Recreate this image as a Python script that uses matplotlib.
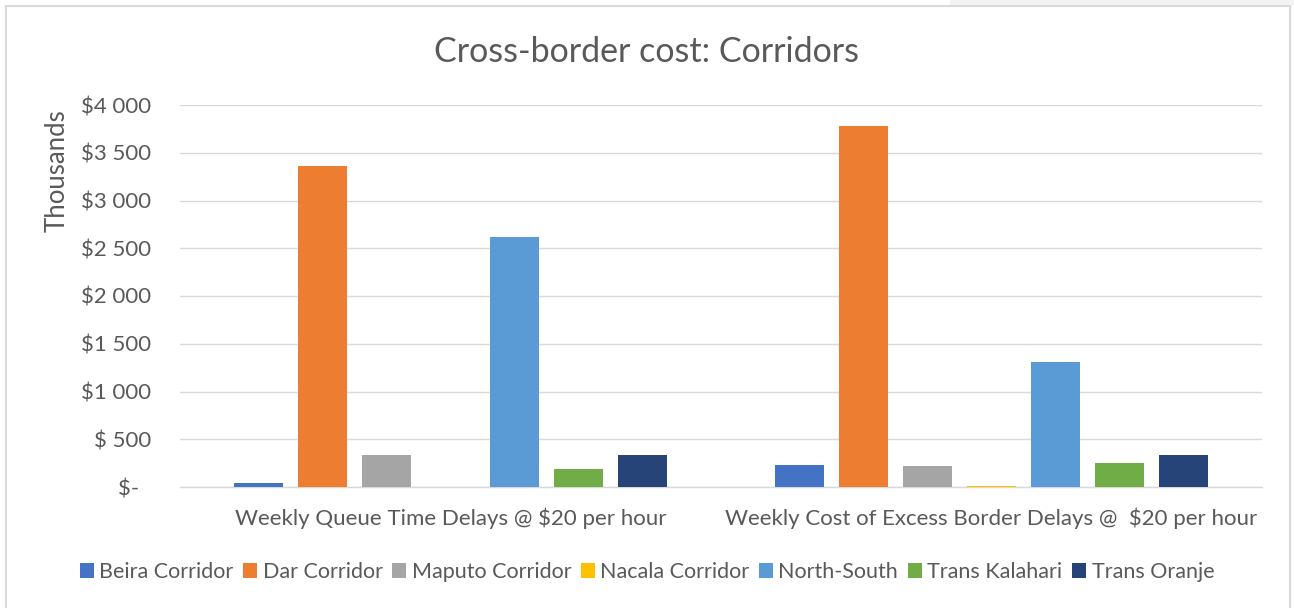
import matplotlib

matplotlib.use("Agg")
import matplotlib.pyplot as plt
import numpy as np
from matplotlib.patches import Patch, Rectangle

plt.rcParams["font.family"] = ["Lato", "DejaVu Sans"]

TXT = "#595959"
GRID = "#d9d9d9"

categories = [
    "Weekly Queue Time Delays @ $20 per hour",
    "Weekly Cost of Excess Border Delays @  $20 per hour",
]
corridors = [
    "Beira Corridor", "Dar Corridor", "Maputo Corridor", "Nacala Corridor",
    "North-South", "Trans Kalahari", "Trans Oranje",
]
colors = ["#4472C4", "#ED7D31", "#A5A5A5", "#FFC000", "#5B9BD5", "#70AD47", "#264478"]

# values in thousands of dollars, per corridor: [queue time, excess delays]
beira = [45, 230]
dar = [3360, 3780]
maputo = [330, 218]
nacala = [0, 15]
north_south = [2620, 1310]
trans_kalahari = [190, 250]
trans_oranje = [330, 332]
series = [beira, dar, maputo, nacala, north_south, trans_kalahari, trans_oranje]

yticks = [0, 500, 1000, 1500, 2000, 2500, 3000, 3500, 4000]
ytick_labels = ["$-  ", "$ 500", "$1 000", "$1 500", "$2 000", "$2 500",
                "$3 000", "$3 500", "$4 000"]

fig = plt.figure(figsize=(12.94, 6.08), dpi=100, facecolor="white")
ax = fig.add_axes([180 / 1294, 1 - 487 / 608, 1082 / 1294, 382 / 608])

# chart frame like the spreadsheet chart box
fig.patches.append(Rectangle((950 / 1294, 1 - 6 / 608), 344 / 1294, 6 / 608,
                             transform=fig.transFigure, facecolor="#f2f3f3",
                             edgecolor="none", zorder=0))
fig.patches.append(Rectangle((6 / 1294, -0.01), 1284 / 1294, 1 - 6 / 608 + 0.01,
                             transform=fig.transFigure, facecolor="none",
                             edgecolor=GRID, lw=1.5, zorder=1))

x = np.arange(len(categories))
step = 0.1183
width = 0.0924
for i, (name, vals, c) in enumerate(zip(corridors, series, colors)):
    ax.bar(x + (i - 3) * step, vals, width, color=c, label=name, zorder=3)

ax.set_xlim(-0.5, 1.5)
ax.set_ylim(0, 4000)
ax.set_yticks(yticks)
ax.set_yticklabels(ytick_labels)
ax.set_xticks(x)
ax.set_xticklabels(categories)
ax.tick_params(axis="y", length=0, pad=21, labelsize=16, labelcolor=TXT)
ax.tick_params(axis="x", length=0, pad=15, labelsize=16, labelcolor=TXT)
ax.grid(axis="y", color=GRID, lw=1, zorder=0)
for side in ["top", "right", "left"]:
    ax.spines[side].set_visible(False)
ax.spines["bottom"].set_color(GRID)
ax.spines["bottom"].set_linewidth(1)

fig.text(57 / 1294, 1 - 171 / 608, "Thousands", rotation=90, ha="center",
         va="center", fontsize=18.5, color=TXT)
fig.text(0.5, 1 - 52 / 608, "Cross-border cost: Corridors", ha="center",
         va="center", fontsize=24.5, color=TXT)

handles = [Patch(facecolor=c, label=n) for n, c in zip(corridors, colors)]
fig.legend(handles=handles, loc="center", bbox_to_anchor=(0.5, 1 - 572 / 608),
           ncol=7, frameon=False, fontsize=15.5, labelcolor=TXT,
           handlelength=0.65, handleheight=0.65, handletextpad=0.25,
           columnspacing=0.45)

fig.savefig("out.png", dpi=100, facecolor="white")
